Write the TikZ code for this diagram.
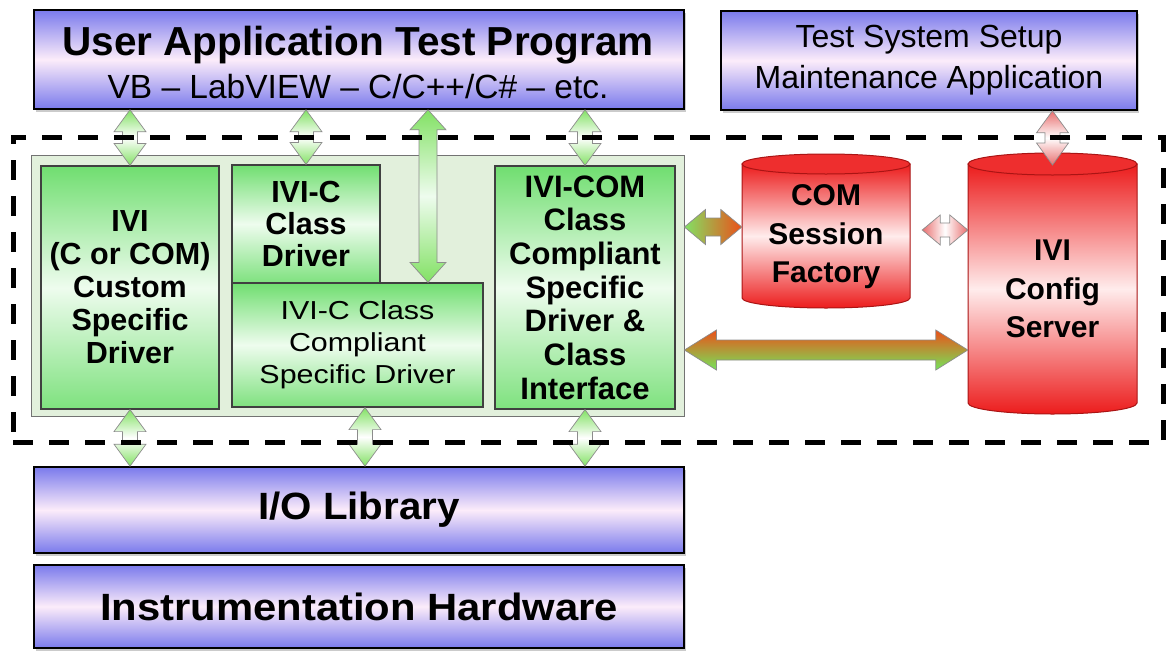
\documentclass[tikz,border=0pt]{standalone}
\usepackage{fontspec}
\setmainfont{Liberation Sans}
\usepackage{graphicx}
\usetikzlibrary{calc,shadows}
\definecolor{bblue}{RGB}{122,122,236}
\definecolor{bpink}{RGB}{252,236,250}
\definecolor{gA}{RGB}{112,222,112}
\definecolor{gB}{RGB}{238,252,238}
\definecolor{panelc}{RGB}{226,240,220}
\definecolor{cR}{RGB}{236,28,28}
\definecolor{cW}{RGB}{255,236,236}
\definecolor{cD}{RGB}{170,20,20}
\definecolor{aG}{RGB}{130,225,100}
\definecolor{aO}{RGB}{235,80,25}
\definecolor{aP}{RGB}{232,110,110}
\newcommand\vdarrow[6]{% style, top point, bottom point, half shaft, half head, head length
 \path[#1] let \p1=#2, \p2=#3 in
  (\x1,\y1) -- (\x1+#5,\y1-#6) -- (\x1+#4,\y1-#6) -- (\x1+#4,\y2+#6) -- (\x1+#5,\y2+#6)
  -- (\x1,\y2) -- (\x1-#5,\y2+#6) -- (\x1-#4,\y2+#6) -- (\x1-#4,\y1-#6) -- (\x1-#5,\y1-#6) -- cycle;}
\newcommand\hdarrow[6]{% style, left point, right point, half shaft, half head, head length
 \path[#1] let \p1=#2, \p2=#3 in
  (\x1,\y1) -- (\x1+#6,\y1+#5) -- (\x1+#6,\y1+#4) -- (\x2-#6,\y1+#4) -- (\x2-#6,\y1+#5)
  -- (\x2,\y1) -- (\x2-#6,\y1-#5) -- (\x2-#6,\y1-#4) -- (\x1+#6,\y1-#4) -- (\x1+#6,\y1-#5) -- cycle;}
\newcommand\widetxt[1]{\scalebox{1.17}[1]{#1}}
\begin{document}
\begin{tikzpicture}[x={(1pt,0pt)}, y={(0pt,-1pt)},
  bluebox/.style={draw=black, line width=1.6pt, top color=bblue, bottom color=bblue, middle color=bpink,
     inner sep=0pt, align=center, drop shadow={shadow xshift=2pt, shadow yshift=-2.5pt, fill=black!40, opacity=.5}},
  greenbox/.style={draw=black!75, line width=1.2pt, top color=gA, bottom color=gA!90, middle color=gB,
     inner sep=0pt, align=center, font=\fontsize{30.5}{33}\selectfont\bfseries},
  panelbox/.style={draw=black!55, line width=0.8pt, fill=panelc, inner sep=0pt},
  cylbody/.style={draw=cD, line width=1pt, top color=cR, bottom color=cR, middle color=cW},
  cyltop/.style={draw=cD, line width=1pt, fill=cR!92!white},
  cyltext/.style={inner sep=0pt, align=center, font=\fontsize{30}{38.5}\selectfont\bfseries},
  varrow/.style={draw=black!45, line width=0.7pt, top color=aG, bottom color=aG, middle color=white},
  varrowR/.style={draw=black!45, line width=0.7pt, top color=aP, bottom color=aP, middle color=white},
  bigarrow/.style={draw=black!45, line width=0.7pt, top color=aG, bottom color=aG, middle color=gB},
  harrowA/.style={draw=black!45, line width=0.7pt, left color=aG, right color=aO},
  harrowB/.style={draw=black!45, line width=0.7pt, left color=aP, right color=aP, middle color=white},
  harrowC/.style={draw=black!45, line width=0.7pt, top color=aO, bottom color=aG!90!green},
  dashframe/.style={draw=black, line width=5pt, dash pattern=on 20pt off 16pt, inner sep=0pt}
]
\useasboundingbox (0,0) rectangle (1168,651);
\fill[white] (0,0) rectangle (1168,651);

% top boxes
\node[bluebox, minimum width=650pt, minimum height=99pt] (ua) at (359,59.5) {};
\node[anchor=base, inner sep=0pt, font=\fontsize{40.5}{40}\selectfont\bfseries] (uaTitle) at (358,55) {User Application Test Program};
\node[anchor=base, inner sep=0pt, font=\fontsize{33.5}{33}\selectfont] (uaSub) at (358,98) {VB – LabVIEW – C/C++/C\# – etc.};
\node[bluebox, minimum width=416pt, minimum height=99pt, font=\fontsize{32}{41}\selectfont] (ts) at (929,60.5) {Test System Setup\\Maintenance Application};

% driver panel
\node[panelbox, minimum width=653pt, minimum height=261pt] (panel) at (357.5,285.5) {};
\node[greenbox, minimum width=178pt, minimum height=243pt] (drvA) at (130,287.5) {IVI\\(C or COM)\\Custom\\Specific\\Driver};
\node[greenbox, minimum width=148pt, minimum height=118pt, font=\fontsize{30.5}{32}\selectfont\bfseries] (drvB) at (306,224) {IVI-C\\Class\\Driver};
\node[greenbox, minimum width=251pt, minimum height=124pt, font=\fontsize{26}{32}\selectfont] (drvC) at (357.5,345) {\widetxt{IVI-C Class}\\\widetxt{Compliant}\\\widetxt{Specific Driver}};
\node[greenbox, minimum width=180pt, minimum height=243pt, font=\fontsize{31}{33.7}\selectfont\bfseries] (drvD) at (585,287.5) {IVI-COM\\Class\\Compliant\\Specific\\Driver \&\\Class\\Interface};

% cylinders
\path[cylbody] (742,164) -- (742,298) arc[start angle=180, end angle=360, x radius=84pt, y radius=10pt] -- (910,164) -- cycle;
\path[cyltop] (826,164) ellipse [x radius=84pt, y radius=10pt];
\node[cyltext, minimum width=168pt] (csf) at (826,237) {COM\\Session\\Factory};
\path[cylbody] (968,164) -- (968,403) arc[start angle=180, end angle=360, x radius=84.5pt, y radius=11pt] -- (1137,164) -- cycle;
\path[cyltop] (1052.5,164) ellipse [x radius=84.5pt, y radius=11pt];
\node[cyltext, minimum width=169pt] (ics) at (1052.5,289) {IVI\\Config\\Server};

% bottom boxes
\node[bluebox, minimum width=650pt, minimum height=86pt, font=\fontsize{38}{40}\selectfont\bfseries] (io) at (359,510) {\scalebox{1.06}[1]{I/O Library}};
\node[bluebox, minimum width=650pt, minimum height=83pt, font=\fontsize{38}{40}\selectfont\bfseries] (hw) at (359,606.5) {\scalebox{1.1}[1]{Instrumentation Hardware}};

% helper coordinates
\coordinate (h1y) at (0,227);
\coordinate (h2y) at (0,230);
\coordinate (h3y) at (0,350);
\coordinate (bigx) at (428,0);
\coordinate (cb) at ($(drvC.south)+(7.5,0)$);
\coordinate (icsTop) at (1052.5,165);

% vertical connectors
\vdarrow{varrow}{(ua.south -| drvA.north)}{(drvA.north)}{7.5pt}{16pt}{22pt}
\vdarrow{varrow}{(ua.south -| drvB.north)}{(drvB.north)}{7.5pt}{16pt}{22pt}
\vdarrow{varrow}{(ua.south -| drvD.north)}{(drvD.north)}{7.5pt}{16pt}{22pt}
\vdarrow{bigarrow}{(ua.south -| bigx)}{(drvC.north -| bigx)}{9pt}{18pt}{20pt}
\vdarrow{varrow}{(drvA.south)}{(io.north -| drvA.south)}{7.5pt}{16pt}{22pt}
\vdarrow{varrow}{(cb)}{(io.north -| cb)}{7.5pt}{16pt}{22pt}
\vdarrow{varrow}{(drvD.south)}{(io.north -| drvD.south)}{7.5pt}{16pt}{22pt}
\vdarrow{varrowR}{(ts.south -| icsTop)}{(icsTop)}{7.5pt}{16pt}{22pt}

% horizontal connectors
\hdarrow{harrowA}{(panel.east |- h1y)}{(csf.west |- h1y)}{9pt}{17.5pt}{21pt}
\hdarrow{harrowB}{($(csf.east |- h2y)+(12,0)$)}{(ics.west |- h2y)}{7pt}{15pt}{18pt}
\hdarrow{harrowC}{(panel.east |- h3y)}{(ics.west |- h3y)}{10pt}{20pt}{32pt}

% dashed frame
\node[dashframe, minimum width=1150pt, minimum height=305pt] (frame) at (588,289.5) {};
\end{tikzpicture}
\end{document}
